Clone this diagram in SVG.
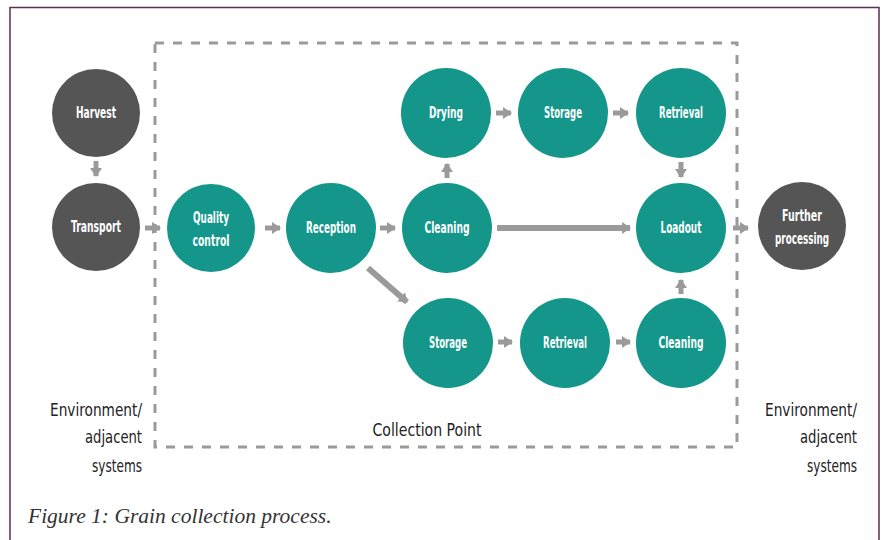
<svg xmlns="http://www.w3.org/2000/svg" width="883" height="540" viewBox="0 0 883 540">
<defs>
<style>
.bg{fill:#ffffff}
.frame{fill:none;stroke:#5e2d52;stroke-width:1.5}
.box{fill:none;stroke:#9a9a9a;stroke-width:3;stroke-dasharray:9 9}
.teal{fill:#14968a}
.dark{fill:#555555}
.lbl{font-family:"DejaVu Sans Condensed","Liberation Sans",sans-serif;font-size:15.5px;fill:#ffffff;text-anchor:middle;font-weight:bold}
.side{font-family:"DejaVu Sans Condensed","Liberation Sans",sans-serif;font-size:18.5px;fill:#222222}
.cap{font-family:"Liberation Serif",serif;font-style:italic;font-size:21.5px;fill:#333333}
.arr{stroke:#9a9a9a;stroke-width:5;fill:none}
.arrl{stroke:#9a9a9a;stroke-width:6;fill:none}
</style>
<marker id="ah" markerUnits="userSpaceOnUse" markerWidth="12" markerHeight="12" refX="8" refY="6" orient="auto">
<path d="M0,0 L9,6 L0,12 Z" fill="#9a9a9a"/>
</marker>
</defs>
<rect class="bg" x="0" y="0" width="883" height="540"/>
<path class="frame" d="M10,545 V7.5 H879 V545"/>
<rect class="box" x="155" y="43" width="582" height="404"/>

<g id="connectors">
<line class="arr" x1="96" y1="161" x2="96" y2="176" marker-end="url(#ah)"/>
<line class="arr" x1="145" y1="228" x2="160" y2="228" marker-end="url(#ah)"/>
<line class="arr" x1="265" y1="228" x2="280" y2="228" marker-end="url(#ah)"/>
<line class="arr" x1="380" y1="228" x2="395" y2="228" marker-end="url(#ah)"/>
<line class="arr" x1="447" y1="178" x2="447" y2="164" marker-end="url(#ah)"/>
<line class="arr" x1="496" y1="113" x2="511" y2="113" marker-end="url(#ah)"/>
<line class="arr" x1="613" y1="113" x2="628" y2="113" marker-end="url(#ah)"/>
<line class="arr" x1="681" y1="162" x2="681" y2="177" marker-end="url(#ah)"/>
<line class="arrl" x1="497" y1="228" x2="630" y2="228" marker-end="url(#ah)"/>
<line class="arrl" x1="368" y1="268" x2="407" y2="302" marker-end="url(#ah)"/>
<line class="arr" x1="498" y1="342" x2="512" y2="342" marker-end="url(#ah)"/>
<line class="arr" x1="616" y1="342" x2="630" y2="342" marker-end="url(#ah)"/>
<line class="arr" x1="681" y1="294" x2="681" y2="280" marker-end="url(#ah)"/>
<line class="arr" x1="733" y1="228" x2="748" y2="228" marker-end="url(#ah)"/>
</g>

<g id="harvest"><circle class="dark" cx="96" cy="113" r="44"/><text class="lbl" x="96" y="118" textLength="40" lengthAdjust="spacingAndGlyphs">Harvest</text></g>
<g id="transport"><circle class="dark" cx="96" cy="227" r="44"/><text class="lbl" x="96" y="232" textLength="50" lengthAdjust="spacingAndGlyphs">Transport</text></g>
<g id="quality-control"><circle class="teal" cx="211" cy="228" r="44"/><text class="lbl" x="211" y="223" textLength="36" lengthAdjust="spacingAndGlyphs">Quality</text><text class="lbl" x="211" y="246" textLength="37" lengthAdjust="spacingAndGlyphs">control</text></g>
<g id="reception"><circle class="teal" cx="331" cy="228" r="45"/><text class="lbl" x="331" y="233" textLength="50" lengthAdjust="spacingAndGlyphs">Reception</text></g>
<g id="cleaning-mid"><circle class="teal" cx="447" cy="228" r="45"/><text class="lbl" x="447" y="233" textLength="45" lengthAdjust="spacingAndGlyphs">Cleaning</text></g>
<g id="drying"><circle class="teal" cx="446" cy="113" r="45"/><text class="lbl" x="446" y="118" textLength="34" lengthAdjust="spacingAndGlyphs">Drying</text></g>
<g id="storage-top"><circle class="teal" cx="563" cy="113" r="45"/><text class="lbl" x="563" y="118" textLength="38" lengthAdjust="spacingAndGlyphs">Storage</text></g>
<g id="retrieval-top"><circle class="teal" cx="681" cy="113" r="45"/><text class="lbl" x="681" y="118" textLength="44" lengthAdjust="spacingAndGlyphs">Retrieval</text></g>
<g id="loadout"><circle class="teal" cx="681" cy="228" r="45"/><text class="lbl" x="681" y="233" textLength="41" lengthAdjust="spacingAndGlyphs">Loadout</text></g>
<g id="further-processing"><circle class="dark" cx="802" cy="226" r="44"/><text class="lbl" x="802" y="221" textLength="40" lengthAdjust="spacingAndGlyphs">Further</text><text class="lbl" x="802" y="244" textLength="54" lengthAdjust="spacingAndGlyphs">processing</text></g>
<g id="storage-bottom"><circle class="teal" cx="448" cy="343" r="45"/><text class="lbl" x="448" y="348" textLength="38" lengthAdjust="spacingAndGlyphs">Storage</text></g>
<g id="retrieval-bottom"><circle class="teal" cx="565" cy="343" r="45"/><text class="lbl" x="565" y="348" textLength="44" lengthAdjust="spacingAndGlyphs">Retrieval</text></g>
<g id="cleaning-bottom"><circle class="teal" cx="681" cy="343" r="45"/><text class="lbl" x="681" y="348" textLength="45" lengthAdjust="spacingAndGlyphs">Cleaning</text></g>

<g id="env-left"><text class="side" text-anchor="end" x="142" y="416" textLength="92" lengthAdjust="spacingAndGlyphs">Environment/</text><text class="side" text-anchor="end" x="142" y="443" textLength="57" lengthAdjust="spacingAndGlyphs">adjacent</text><text class="side" text-anchor="end" x="142" y="472" textLength="50" lengthAdjust="spacingAndGlyphs">systems</text></g>
<g id="env-right"><text class="side" text-anchor="end" x="857" y="416" textLength="92" lengthAdjust="spacingAndGlyphs">Environment/</text><text class="side" text-anchor="end" x="857" y="443" textLength="57" lengthAdjust="spacingAndGlyphs">adjacent</text><text class="side" text-anchor="end" x="857" y="472" textLength="50" lengthAdjust="spacingAndGlyphs">systems</text></g>
<g id="collection-point"><text class="side" text-anchor="middle" x="427" y="436" textLength="109" lengthAdjust="spacingAndGlyphs">Collection Point</text></g>
<text class="cap" x="28" y="523">Figure 1: Grain collection process.</text>
</svg>
